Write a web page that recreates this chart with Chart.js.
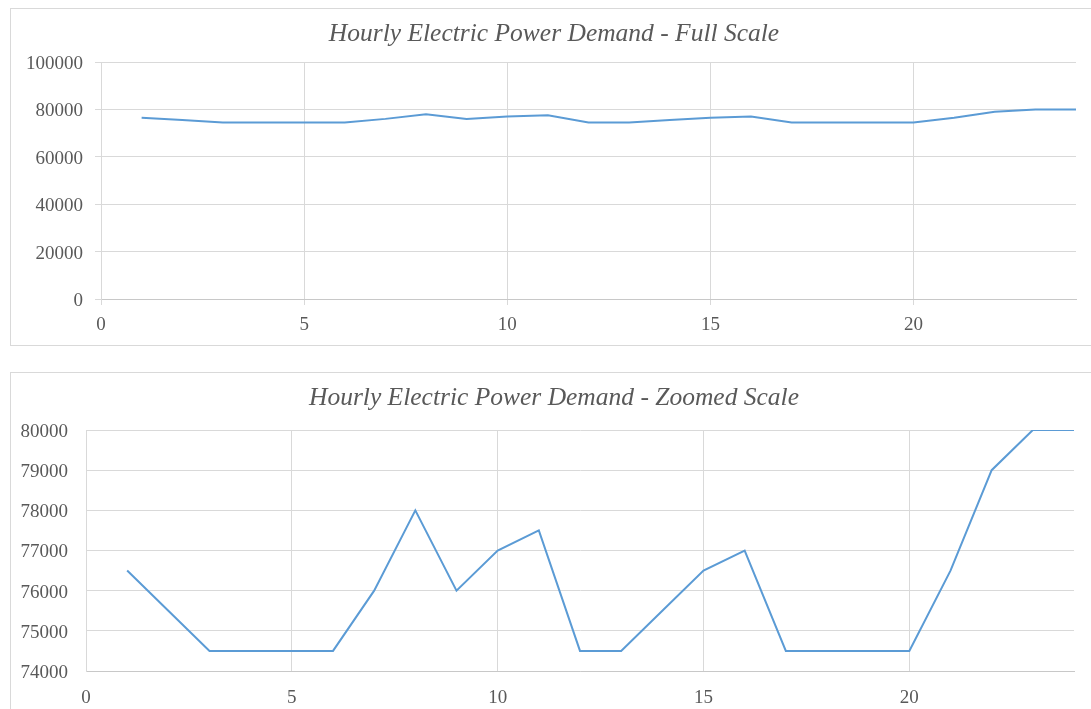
<!DOCTYPE html>
<html>
<head>
<meta charset="utf-8">
<script src="https://cdn.jsdelivr.net/npm/chart.js@4.4.0/dist/chart.umd.min.js"></script>
<style>
    body { margin: 0; background: #fff; overflow: hidden; }
    .panel {
        position: absolute;
        left: 10px;
        width: 1090px;
        border: 1px solid #d9d9d9;
        background: #fff;
    }
    #fullPanel { top: 8px; height: 336px; }
    #zoomPanel { top: 372px; height: 345px; }
    canvas { display: block; }
</style>
</head>
<body>
<div class="panel" id="fullPanel"><canvas id="fullChart" width="1086" height="336"></canvas></div>
<div class="panel" id="zoomPanel"><canvas id="zoomChart" width="1086" height="336"></canvas></div>
<script>
// Hour of day and demand (MW)
const hours = [1, 2, 3, 4, 5, 6, 7, 8, 9, 10, 11, 12, 13, 14, 15, 16, 17, 18, 19, 20, 21, 22, 23, 24];
const demand = [76500, 75500, 74500, 74500, 74500, 74500, 76000, 78000, 76000, 77000, 77500, 74500,
                74500, 75500, 76500, 77000, 74500, 74500, 74500, 74500, 76500, 79000, 80000, 80000];

const fullTitle = 'Hourly Electric Power Demand - Full Scale';
const zoomTitle = 'Hourly Electric Power Demand - Zoomed Scale';

const textColor = '#595959';
const gridColor = '#d9d9d9';
const lineColor = '#5b9bd5';

// Title centred on the whole panel rather than on the padded layout box
const panelTitle = {
    id: 'panelTitle',
    afterDraw(chart, args, opts) {
        const ctx = chart.ctx;
        ctx.save();
        ctx.font = 'italic 25.5px "Liberation Serif"';
        ctx.fillStyle = textColor;
        ctx.textAlign = 'center';
        ctx.textBaseline = 'middle';
        ctx.fillText(opts.text, chart.width / 2, opts.y);
        ctx.restore();
    }
};

function buildChart(id, title, yMin, yMax, yStep, opts) {
    const ctx = document.getElementById(id).getContext('2d');
    return new Chart(ctx, {
        type: 'line',
        data: {
            datasets: [{
                data: hours.map((h, i) => ({ x: h, y: demand[i] })),
                borderColor: lineColor,
                borderWidth: 2,
                pointRadius: 0,
                tension: 0
            }]
        },
        plugins: [panelTitle],
        options: {
            responsive: false,
            animation: false,
            layout: { padding: { left: 0, right: opts.right, top: opts.top, bottom: 0 } },
            plugins: {
                legend: { display: false },
                tooltip: { enabled: false },
                panelTitle: { text: title, y: 25 }
            },
            scales: {
                x: {
                    type: 'linear',
                    min: 0,
                    max: 24,
                    afterBuildTicks: scale => {
                        scale.ticks = scale.ticks.filter(t => t.value % 5 === 0);
                    },
                    afterFit: scale => { scale.height = opts.xHeight; },
                    ticks: {
                        stepSize: 5,
                        color: textColor,
                        padding: opts.xPad,
                        maxRotation: 0,
                        font: { family: 'Liberation Serif', size: 19 }
                    },
                    grid: {
                        color: gridColor,
                        drawTicks: opts.ticks,
                        tickLength: 6
                    },
                    border: { color: '#c8c8c8' }
                },
                y: {
                    min: yMin,
                    max: yMax,
                    afterFit: scale => { scale.width = opts.yWidth; },
                    ticks: {
                        stepSize: yStep,
                        color: textColor,
                        padding: opts.yPad,
                        labelOffset: 2,
                        callback: v => String(v),
                        font: { family: 'Liberation Serif', size: 19 }
                    },
                    grid: {
                        color: gridColor,
                        drawTicks: opts.ticks,
                        tickLength: 6
                    },
                    border: { color: gridColor }
                }
            }
        }
    });
}

buildChart('fullChart', fullTitle, 0, 100000, 20000, {
    right: 21, top: 53, xHeight: 46, yWidth: 90, xPad: 9, yPad: 12, ticks: true
});
buildChart('zoomChart', zoomTitle, 74000, 80000, 1000, {
    right: 23, top: 57, xHeight: 38, yWidth: 75, xPad: 16, yPad: 18, ticks: false
});
</script>
</body>
</html>
